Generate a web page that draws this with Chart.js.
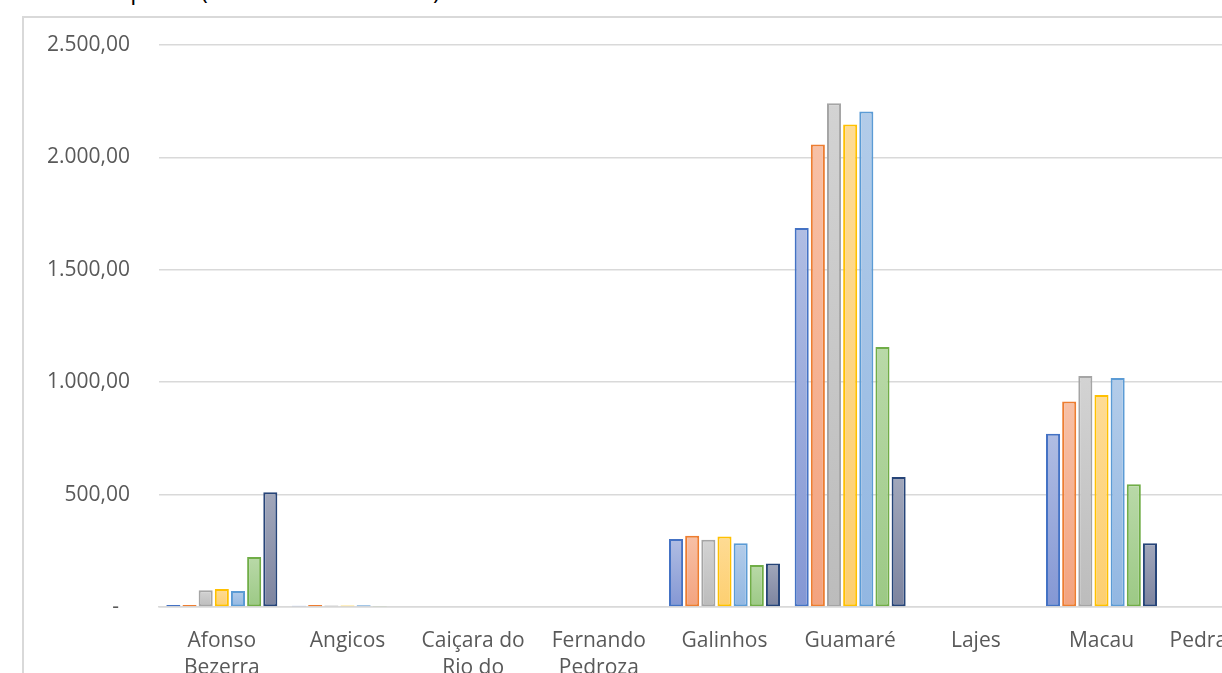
<!DOCTYPE html>
<html>
<head>
<meta charset="utf-8">
<script src="https://cdn.jsdelivr.net/npm/chart.js@4.4.1/dist/chart.umd.min.js"></script>
<style>
  html, body { margin: 0; padding: 0; background: #fff; overflow: hidden; width: 1222px; height: 673px; }
  #titulo { position: absolute; left: 40px; top: -23px; font: 24px 'Open Sans', sans-serif; color: #000; white-space: nowrap; line-height: 26px; }
  #caixa { position: absolute; left: 22px; top: 16px; border-left: 2px solid #d9d9d9; border-top: 2px solid #d9d9d9; width: 1400px; height: 800px; }
  #grafico { display: block; }
</style>
</head>
<body>
<div id="titulo">Total Repasse (em milhões de reais)</div>
<div id="caixa"><canvas id="grafico" width="1286" height="760"></canvas></div>
<script>
// municipios (eixo x)
const municipios = [['Afonso', 'Bezerra'], 'Angicos', ['Caiçara do', 'Rio do', 'Vento'], ['Fernando', 'Pedroza'], 'Galinhos', 'Guamaré', 'Lajes', 'Macau', 'Pedra Preta'];

// valores por serie (ano)
const serie2015 = [9, 6, 0, 0, 302, 1686, 0, 771, 0];
const serie2016 = [9, 9, 0, 0, 317, 2057, 0, 914, 0];
const serie2017 = [75, 7, 0, 0, 299, 2241, 0, 1028, 0];
const serie2018 = [80, 7, 0, 0, 314, 2146, 0, 943, 0];
const serie2019 = [71, 8, 0, 0, 284, 2204, 0, 1019, 0];
const serie2020 = [222, 4, 0, 0, 187, 1157, 0, 546, 0];
const serie2021 = [511, 0, 0, 0, 193, 578, 0, 284, 0];

const nomesSeries = ['2015', '2016', '2017', '2018', '2019', '2020', '2021'];
const todasSeries = [serie2015, serie2016, serie2017, serie2018, serie2019, serie2020, serie2021];

// ticks do eixo y
const ticksY = [0, 500, 1000, 1500, 2000, 2500];

// cores estilo Excel (borda, topo do gradiente, base do gradiente)
const bordas = ['#4472C4', '#ED7D31', '#A5A5A5', '#FFC000', '#5B9BD5', '#70AD47', '#264478'];
const fillTopo = ['#b0bde3', '#f7c0a6', '#d3d3d3', '#fedb94', '#b3cce9', '#b9d9a8', '#a1a7bb'];
const fillBase = ['#8497d4', '#f3a37f', '#bcbcbc', '#fdcf70', '#92b7e2', '#9cc985', '#7d849f'];

Chart.defaults.font.family = "'Open Sans', 'Noto Sans', sans-serif";
Chart.defaults.color = '#595959';

// gradiente vertical por barra, como no Excel
function gradiente(i) {
    return function (ctx) {
        const chart = ctx.chart;
        const y = chart.scales && chart.scales.y;
        if (!y || ctx.parsed === undefined || y.bottom === undefined) return fillTopo[i];
        const topo = y.getPixelForValue(ctx.parsed.y);
        const base = y.getPixelForValue(0);
        if (!isFinite(topo) || base - topo < 1) return fillTopo[i];
        const g = chart.ctx.createLinearGradient(0, topo, 0, base);
        g.addColorStop(0, fillTopo[i]);
        g.addColorStop(1, fillBase[i]);
        return g;
    };
}

const datasets = todasSeries.map((d, i) => ({
    label: nomesSeries[i],
    data: d,
    borderColor: bordas[i],
    backgroundColor: gradiente(i),
    borderWidth: 2,
    borderSkipped: false,
    categoryPercentage: 0.9,
    barPercentage: 0.87
}));

function formatar(v) {
    if (v === 0) return '-  ';
    return v.toLocaleString('pt-BR', { minimumFractionDigits: 2, maximumFractionDigits: 2 });
}

new Chart(document.getElementById('grafico').getContext('2d'), {
    type: 'bar',
    data: { labels: municipios, datasets: datasets },
    options: {
        responsive: false,
        animation: false,
        layout: { padding: { top: 27, right: 20, left: 0, bottom: 0 } },
        plugins: {
            legend: { display: false },
            tooltip: { enabled: false }
        },
        scales: {
            x: {
                grid: { display: false, drawTicks: false },
                border: { color: '#d9d9d9', width: 1.5 },
                ticks: { font: { size: 21, lineHeight: 1.3 }, padding: 20, maxRotation: 0, autoSkip: false },
                afterFit: function (scale) { scale.height = 171; }
            },
            y: {
                min: 0,
                max: 2500,
                afterBuildTicks: function (scale) { scale.ticks = ticksY.map(v => ({ value: v })); },
                grid: { color: '#d9d9d9', lineWidth: 1.5, drawTicks: false },
                border: { display: false },
                ticks: { font: { size: 21 }, padding: 29, callback: formatar },
                afterFit: function (scale) {
                    scale.width = 135;
                    scale.paddingTop = 0;
                    scale.paddingBottom = 0;
                }
            }
        }
    }
});
</script>
</body>
</html>
